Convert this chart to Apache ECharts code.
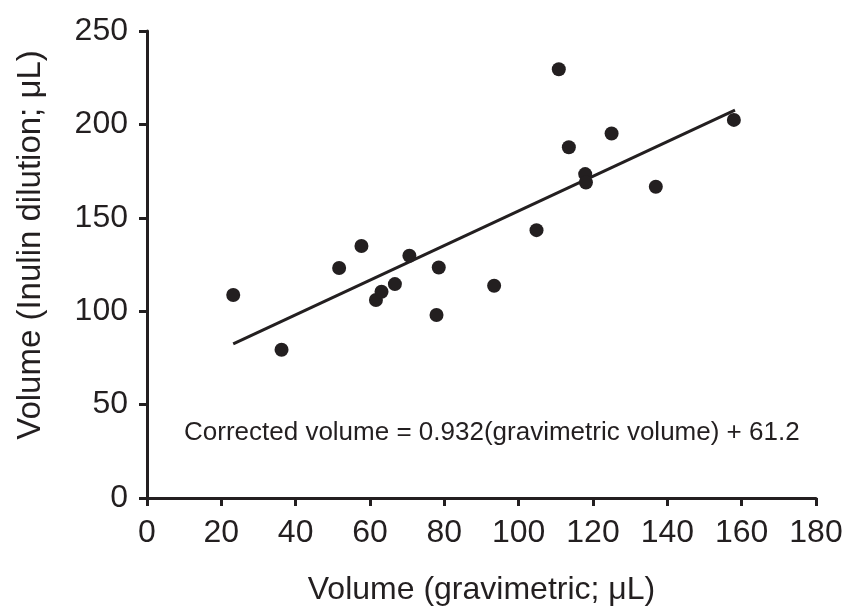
<!DOCTYPE html>
<html>
<head>
<meta charset="utf-8">
<script src="https://cdn.jsdelivr.net/npm/echarts@6/dist/echarts.min.js"></script>
<style>
html,body{margin:0;padding:0;background:#fff;}
#chart{width:847px;height:609px;}
</style>
</head>
<body>
<div id="chart"></div>
<script>
// Data
const gravimetricVolume = [23.2, 36.2, 51.7, 57.7, 61.6, 63.1, 66.7, 70.6, 77.9, 78.5, 93.4, 104.8, 110.8, 113.5, 117.9, 118.1, 125.0, 136.9, 157.9];
const inulinVolume      = [108.7, 79.4, 123.1, 134.9, 106.0, 110.4, 114.5, 129.7, 98.0, 123.4, 113.6, 143.4, 229.5, 187.8, 173.4, 168.9, 195.1, 166.6, 202.4];
const fitX = [23.2, 158.2];
const fitY = [82.5, 207.6];
const xTicks = [0, 20, 40, 60, 80, 100, 120, 140, 160, 180];
const yTicks = [0, 50, 100, 150, 200, 250];
const xTitle = 'Volume (gravimetric; μL)';
const yTitle = 'Volume (Inulin dilution; μL)';
const equationText = 'Corrected volume = 0.932(gravimetric volume) + 61.2';

const ink = '#231f20';
const font = 'Liberation Sans, Arial, Helvetica, sans-serif';

const chart = echarts.init(document.getElementById('chart'), null, {renderer: 'canvas'});
const axisCommon = {
  axisLine: {show: true, onZero: false, lineStyle: {color: ink, width: 3}},
  axisTick: {show: true, inside: false, length: 8, lineStyle: {color: ink, width: 3}},
  splitLine: {show: false},
  axisLabel: {color: ink, fontSize: 32, fontFamily: font},
  nameTextStyle: {color: ink, fontSize: 32, fontFamily: font}
};
chart.setOption({
  animation: false,
  backgroundColor: '#fff',
  grid: {left: 147, right: 31, top: 31, bottom: 111, containLabel: false, outerBoundsMode: 'none'},
  xAxis: Object.assign({}, axisCommon, {
    type: 'value', min: xTicks[0], max: xTicks[xTicks.length - 1], interval: 20,
    name: xTitle, nameLocation: 'middle', nameGap: 76,
    axisLabel: Object.assign({}, axisCommon.axisLabel, {margin: 19})
  }),
  yAxis: Object.assign({}, axisCommon, {
    type: 'value', min: yTicks[0], max: yTicks[yTicks.length - 1], interval: 50,
    axisLabel: Object.assign({}, axisCommon.axisLabel, {margin: 19})
  }),
  graphic: [
    {
      type: 'text', x: 31, y: 245, rotation: Math.PI / 2,
      style: {text: yTitle, fill: ink, fontSize: 33, fontFamily: font, align: 'center', verticalAlign: 'middle'}
    },
    {
      type: 'text', left: 184, top: 420,
      style: {text: equationText, fill: ink, fontSize: 26, fontFamily: font}
    }
  ],
  series: [
    {
      type: 'line', data: fitX.map((x, i) => [x, fitY[i]]),
      showSymbol: false, symbol: 'none',
      lineStyle: {color: ink, width: 3}, z: 2
    },
    {
      type: 'scatter', data: gravimetricVolume.map((x, i) => [x, inulinVolume[i]]),
      symbol: 'circle', symbolSize: 14,
      itemStyle: {color: ink, opacity: 1}, z: 3
    }
  ]
});
</script>
</body>
</html>
